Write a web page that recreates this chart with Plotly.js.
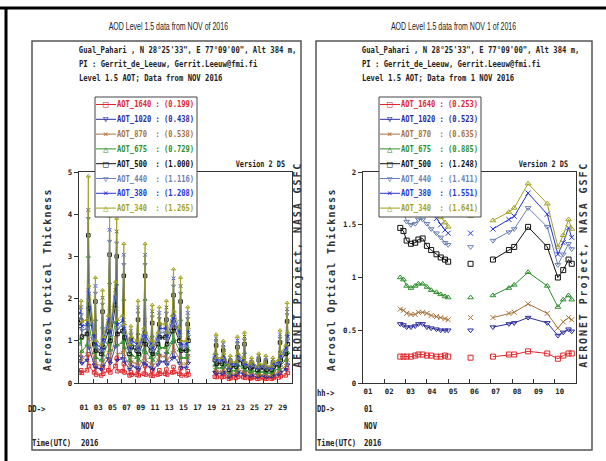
<!DOCTYPE html>
<html><head><meta charset="utf-8">
<script src="https://cdn.plot.ly/plotly-3.0.1.min.js"></script>
<style>html,body{margin:0;padding:0;background:#fff}</style>
</head><body><div id="chart" style="width:606px;height:461px"></div>
<script>
// ---------------- data ----------------
const channels = ['AOT_1640','AOT_1020','AOT_870','AOT_675','AOT_500','AOT_440','AOT_380','AOT_340'];
const colors   = ['#e0262a','#2b2b9c','#a8743c','#2e8f2e','#111111','#6b80b4','#2436d6','#a2a21c'];
const symbols  = ['square-open','triangle-down-open','x-thin-open','triangle-up-open','square-open','triangle-down-open','x-thin-open','triangle-up-open'];
const glyphs   = ['\u25A1','\u25BD','\u00D7','\u25B3','\u25A1','\u25BD','\u00D7','\u25B3'];
const meansMonth = ['0.199','0.438','0.538','0.729','1.000','1.116','1.208','1.265'];
const meansDay   = ['0.253','0.523','0.635','0.885','1.248','1.411','1.551','1.641'];

// Left panel: November 2016, three sampled observations (UTC hours) per measurement day
const monthDays = [1,2,3,4,5,6,7,8,9,10,11,12,13,14,15,16,20,21,22,23,24,25,26,27,28,29,30];
const obsHours  = [3, 7.5, 10];
const month_1640 = [0.25,0.30,0.24, 0.30,0.68,0.40, 0.25,0.40,0.20, 0.18,0.35,0.22, 0.30,0.55,0.25, 0.40,0.58,0.28, 0.28,0.45,0.25, 0.18,0.25,0.20, 0.20,0.30,0.18, 0.22,0.40,0.20, 0.18,0.28,0.17, 0.20,0.30,0.22, 0.22,0.32,0.20, 0.25,0.38,0.26, 0.22,0.35,0.18, 0.18,0.28,0.20,
  0.15,0.25,0.14, 0.14,0.22,0.15, 0.10,0.16,0.12, 0.12,0.22,0.15, 0.14,0.24,0.12, 0.11,0.15,0.12, 0.10,0.16,0.11, 0.11,0.15,0.10, 0.10,0.14,0.12, 0.13,0.24,0.16, 0.18,0.35,0.24];
const month_1020 = [0.53,0.62,0.46, 0.54,1.76,0.83, 0.43,0.90,0.36, 0.32,0.79,0.40, 0.58,1.42,0.47, 0.86,1.40,0.54, 0.58,1.19,0.50, 0.32,0.49,0.40, 0.36,0.70,0.32, 0.47,1.19,0.43, 0.36,0.67,0.32, 0.43,0.65,0.50, 0.50,0.70,0.43, 0.58,0.97,0.61, 0.47,0.90,0.36, 0.36,0.65,0.47,
  0.25,0.41,0.22, 0.22,0.36,0.25, 0.14,0.23,0.18, 0.18,0.40,0.25, 0.22,0.43,0.18, 0.16,0.22,0.18, 0.14,0.25,0.16, 0.16,0.23,0.14, 0.14,0.22,0.18, 0.20,0.45,0.25, 0.32,0.68,0.43];
const month_870 = [0.65,0.75,0.55, 0.68,2.20,1.04, 0.54,1.13,0.45, 0.41,0.99,0.50, 0.72,1.78,0.59, 1.08,1.76,0.68, 0.72,1.49,0.63, 0.41,0.61,0.50, 0.45,0.88,0.41, 0.59,1.49,0.54, 0.45,0.83,0.41, 0.54,0.81,0.63, 0.63,0.88,0.54, 0.72,1.22,0.77, 0.59,1.13,0.45, 0.45,0.81,0.59,
  0.32,0.52,0.27, 0.27,0.45,0.32, 0.18,0.29,0.23, 0.23,0.50,0.32, 0.27,0.54,0.23, 0.20,0.27,0.23, 0.18,0.32,0.20, 0.20,0.29,0.18, 0.18,0.27,0.23, 0.25,0.56,0.32, 0.41,0.86,0.54];
const month_675 = [0.92,1.05,0.75, 0.90,3.00,1.38, 0.72,1.50,0.60, 0.54,1.32,0.66, 0.96,2.37,0.78, 1.44,2.34,0.90, 0.96,1.98,0.84, 0.54,0.81,0.66, 0.60,1.17,0.54, 0.78,1.98,0.72, 0.60,1.11,0.54, 0.72,1.08,0.84, 0.84,1.17,0.72, 0.96,1.62,1.02, 0.78,1.50,0.60, 0.60,1.08,0.78,
  0.42,0.69,0.36, 0.36,0.60,0.42, 0.24,0.39,0.30, 0.30,0.66,0.42, 0.36,0.72,0.30, 0.27,0.36,0.30, 0.24,0.42,0.27, 0.27,0.39,0.24, 0.24,0.36,0.30, 0.33,0.75,0.42, 0.54,1.14,0.72];
const month_500 = [1.35,1.48,1.10, 1.16,3.50,1.77, 0.92,1.93,0.77, 0.69,1.69,0.85, 1.23,3.04,1.00, 1.85,3.00,1.16, 1.23,2.54,1.08, 0.69,1.04,0.85, 0.77,1.50,0.69, 1.00,2.54,0.92, 0.77,1.42,0.69, 0.92,1.39,1.08, 1.08,1.50,0.92, 1.23,2.08,1.31, 1.00,1.93,0.77, 0.77,1.39,1.00,
  0.54,0.89,0.46, 0.46,0.77,0.54, 0.31,0.50,0.39, 0.39,0.85,0.54, 0.46,0.92,0.39, 0.35,0.46,0.39, 0.31,0.54,0.35, 0.35,0.50,0.31, 0.31,0.46,0.39, 0.42,0.96,0.54, 0.69,1.46,0.92];
const month_440 = [1.53,1.62,1.25, 1.28,3.90,1.96, 1.02,2.13,0.85, 0.77,1.87,0.94, 1.36,3.36,1.11, 2.04,3.32,1.28, 1.36,2.81,1.19, 0.77,1.15,0.94, 0.85,1.66,0.77, 1.11,2.81,1.02, 0.85,1.57,0.77, 1.02,1.53,1.19, 1.19,1.66,1.02, 1.36,2.30,1.45, 1.11,2.13,0.85, 0.85,1.53,1.11,
  0.60,0.98,0.51, 0.51,0.85,0.60, 0.34,0.55,0.43, 0.43,0.94,0.60, 0.51,1.02,0.43, 0.38,0.51,0.43, 0.34,0.60,0.38, 0.38,0.55,0.34, 0.34,0.51,0.43, 0.47,1.06,0.60, 0.77,1.62,1.02];
const month_380 = [1.66,1.80,1.35, 1.38,4.10,2.12, 1.10,2.30,0.92, 0.83,2.02,1.01, 1.47,3.63,1.20, 2.21,3.59,1.38, 1.47,3.04,1.29, 0.83,1.24,1.01, 0.92,1.79,0.83, 1.20,3.04,1.10, 0.92,1.70,0.83, 1.10,1.66,1.29, 1.29,1.79,1.10, 1.47,2.48,1.56, 1.20,2.30,0.92, 0.92,1.66,1.20,
  0.64,1.06,0.55, 0.55,0.92,0.64, 0.37,0.60,0.46, 0.46,1.01,0.64, 0.55,1.10,0.46, 0.41,0.55,0.46, 0.37,0.64,0.41, 0.41,0.60,0.37, 0.37,0.55,0.46, 0.51,1.15,0.64, 0.83,1.75,1.10];
const month_340 = [1.77,1.95,1.45, 1.50,4.90,2.30, 1.20,2.50,1.00, 0.90,2.20,1.10, 1.60,3.95,1.30, 2.40,3.90,1.50, 1.60,3.30,1.40, 0.90,1.35,1.10, 1.00,1.95,0.90, 1.30,3.30,1.20, 1.00,1.85,0.90, 1.20,1.80,1.40, 1.40,1.95,1.20, 1.60,2.70,1.70, 1.30,2.50,1.00, 1.00,1.80,1.30,
  0.70,1.15,0.60, 0.60,1.00,0.70, 0.40,0.65,0.50, 0.50,1.10,0.70, 0.60,1.20,0.50, 0.45,0.60,0.50, 0.40,0.70,0.45, 0.45,0.65,0.40, 0.40,0.60,0.50, 0.55,1.25,0.70, 0.90,1.90,1.20];

// Right panel: 1 November 2016, UTC hour of each observation
const dayHours = [2.75,2.9,3.05,3.25,3.45,3.6,3.8,4.0,4.2,4.45,4.65,4.85,5.0, 6.05, 7.1,7.85,8.1,8.75,9.65,10.15,10.4,10.65,10.8];
const day_1640 = [0.25,0.25,0.25,0.25,0.26,0.27,0.27,0.26,0.26,0.25,0.25,0.26,0.25, 0.24, 0.25,0.27,0.27,0.30,0.28,0.23,0.26,0.28,0.28];
const day_1020 = [0.56,0.55,0.53,0.53,0.54,0.56,0.56,0.53,0.52,0.51,0.50,0.50,0.50, 0.50, 0.53,0.56,0.57,0.62,0.57,0.45,0.48,0.51,0.49];
const day_870  = [0.70,0.69,0.66,0.65,0.65,0.67,0.67,0.66,0.64,0.63,0.62,0.61,0.60, 0.62, 0.62,0.66,0.67,0.75,0.66,0.52,0.58,0.62,0.60];
const day_675  = [1.00,0.98,0.92,0.90,0.92,0.94,0.94,0.91,0.88,0.86,0.84,0.82,0.81, 0.81, 0.83,0.90,0.93,1.05,0.92,0.72,0.79,0.83,0.79];
const day_500  = [1.47,1.44,1.35,1.32,1.33,1.36,1.37,1.30,1.26,1.22,1.19,1.17,1.15, 1.13, 1.17,1.26,1.29,1.48,1.29,1.00,1.07,1.17,1.13];
const day_440  = [1.66,1.63,1.53,1.50,1.51,1.55,1.55,1.51,1.46,1.42,1.38,1.33,1.31, 1.29, 1.35,1.43,1.46,1.66,1.48,1.12,1.22,1.32,1.27];
const day_380  = [1.82,1.78,1.68,1.64,1.65,1.69,1.70,1.65,1.60,1.56,1.50,1.45,1.42, 1.42, 1.46,1.55,1.58,1.80,1.60,1.22,1.33,1.47,1.38];
const day_340  = [1.92,1.88,1.77,1.73,1.74,1.78,1.79,1.74,1.68,1.63,1.57,1.52,1.48, 1.58, 1.54,1.62,1.66,1.89,1.70,1.29,1.40,1.55,1.46];

const dayTicks = [1,3,5,7,9,11,13,15,17,19,21,23,25,27,29];
const dayTickText = ['01','03','05','07','09','11','13','15','17','19','21','23','25','27','29'];
const hourTicks = [1,2,3,4,5,6,7,8,9,10];
const hourTickText = ['01','02','03','04','05','06','07','08','09','10'];
const yTicksLeft = [0,1,2,3,4,5];
const yTicksRight = [0,0.5,1,1.5,2];
const yTickTextRight = ['0','0.5','1','1.5','2'];

const monthSeries = [month_1640,month_1020,month_870,month_675,month_500,month_440,month_380,month_340];
const daySeries = [day_1640,day_1020,day_870,day_675,day_500,day_440,day_380,day_340];

// ---------------- helpers ----------------
const W = 606, H = 461;
const px = x => x / W, py = y => 1 - y / H;
const MONO = 'DejaVu Sans Mono, Liberation Mono, monospace';
const SANS = 'Liberation Sans, Arial, sans-serif';

function withGaps(xs, ys, maxGap) {
  const X = [], Y = [];
  for (let i = 0; i < xs.length; i++) {
    if (i > 0 && xs[i] - xs[i-1] > maxGap) { X.push(null); Y.push(null); }
    X.push(xs[i]); Y.push(ys[i]);
  }
  return {X, Y};
}

const monthTimes = [];
monthDays.forEach(d => obsHours.forEach(h => monthTimes.push(d + h / 24)));

const traces = [];
channels.forEach((c, i) => {
  const m = withGaps(monthTimes, monthSeries[i], 1.5);
  traces.push({type:'scatter', mode:'lines+markers', x:m.X, y:m.Y, xaxis:'x', yaxis:'y', name:c,
    line:{color:colors[i], width:0.9}, connectgaps:false,
    marker:{symbol:symbols[i], size:3.5, color:colors[i], line:{color:colors[i], width:1}}});
});
channels.forEach((c, i) => {
  const m = withGaps(dayHours, daySeries[i], 1.0);
  traces.push({type:'scatter', mode:'lines+markers', x:m.X, y:m.Y, xaxis:'x2', yaxis:'y2', name:c,
    line:{color:colors[i], width:1}, connectgaps:false,
    marker:{symbol:symbols[i], size:5, color:colors[i], line:{color:colors[i], width:1}}});
});

// ---------------- annotations & shapes ----------------
const ann = [];
const textStyle = [];   // per-annotation horizontal condensing / letter spacing
function txt(x, y, text, font, opts, style) {
  const a = Object.assign({xref:'paper', yref:'paper', x:px(x), y:py(y), text:text, showarrow:false,
    xanchor:'left', yanchor:'middle', borderpad:0, font:font}, opts || {});
  if (style) textStyle.push(Object.assign({index:ann.length, anchor:a.xanchor}, style));
  ann.push(a);
}
const mono = (size, color) => ({family:MONO, size:size, color:color || '#222', weight:'bold'});
const NS = {scale:0.77};

const shapes = [];
// outer frame (top and left edges)
shapes.push({type:'line', xref:'paper', yref:'paper', x0:px(0), x1:px(606), y0:py(8), y1:py(8), line:{color:'#000', width:3}});
shapes.push({type:'line', xref:'paper', yref:'paper', x0:px(6), x1:px(6), y0:py(8), y1:py(461), line:{color:'#000', width:3}});
// panel boxes
shapes.push({type:'rect', xref:'paper', yref:'paper', x0:px(32), x1:px(301), y0:py(41), y1:py(450), line:{color:'#555', width:1.5}});
shapes.push({type:'rect', xref:'paper', yref:'paper', x0:px(316), x1:px(592), y0:py(41), y1:py(450), line:{color:'#555', width:1.5}});

const panels = [
  {title:'AOD Level 1.5 data from NOV of 2016', tx:168, hx:78, lvl:'Level 1.5 AOT; Data from NOV 2016', lx:95, means:meansMonth, yt:47, ae:297, vx:286},
  {title:'AOD Level 1.5 data from NOV 1 of 2016', tx:453, hx:361, lvl:'Level 1.5 AOT; Data from 1 NOV 2016', lx:379, means:meansDay, yt:331, ae:583, vx:569}
];
panels.forEach(p => {
  txt(p.tx, 27, p.title, {family:SANS, size:10, color:'#222'}, {xanchor:'center'}, {scale:0.7});
  txt(p.hx, 50, 'Gual_Pahari , N 28\u00B025\'33", E 77\u00B009\'00", Alt 384 m,', mono(9.4), null, NS);
  txt(p.hx, 63.5, 'PI : Gerrit_de_Leeuw, Gerrit.Leeuw@fmi.fi', mono(9.4), null, NS);
  txt(p.hx, 77, p.lvl, mono(9.4), null, NS);
  txt(p.vx, 164, 'Version 2 DS', mono(9), {xanchor:'right'}, {scale:0.76});
  txt(p.yt, 280, 'Aerosol Optical Thickness', mono(10, '#333'), {xanchor:'center', textangle:-90}, {spacing:1.3});
  txt(p.ae, 265, 'AERONET Project, NASA GSFC', mono(10, '#333'), {xanchor:'center', textangle:-90}, {spacing:1.9});
  // legend box
  shapes.push({type:'rect', xref:'paper', yref:'paper', layer:'above', x0:px(p.lx), x1:px(p.lx+102), y0:py(97), y1:py(217),
    fillcolor:'#fff', line:{color:'#444', width:1}});
  channels.forEach((c, i) => {
    const ry = 104.5 + i * 14.8;
    shapes.push({type:'line', xref:'paper', yref:'paper', layer:'above', x0:px(p.lx+1), x1:px(p.lx+21), y0:py(ry), y1:py(ry),
      line:{color:colors[i], width:1}});
    txt(p.lx + 10.5, ry, glyphs[i], {family:MONO, size:9, color:colors[i]}, {xanchor:'center'});
    const name = c + '\u00A0'.repeat(9 - c.length);
    txt(p.lx + 21, ry, name + ':\u00A0(' + p.means[i] + ')', mono(9, colors[i]), null, {scale:0.79});
  });
});
// bottom time labels
txt(27, 408, 'DD->', mono(9.4), null, NS);
txt(80, 425, 'NOV', mono(9.4), null, NS);
txt(31, 442, 'Time(UTC)', mono(9.4), null, NS);
txt(80, 442, '2016', mono(9.4), null, NS);
txt(316, 392, 'hh->', mono(9.4), null, NS);
txt(316, 408, 'DD->', mono(9.4), null, NS);
txt(363, 408, '01', mono(9.4), null, NS);
txt(363, 425, 'NOV', mono(9.4), null, NS);
txt(316, 442, 'Time(UTC)', mono(9.4), null, NS);
txt(363, 442, '2016', mono(9.4), null, NS);

const axisBase = {showline:true, mirror:true, linecolor:'#333', linewidth:1.2, showgrid:false, zeroline:false,
  tickcolor:'#333', tickfont:mono(7.4), fixedrange:true};

const layout = {
  width:W, height:H, margin:{l:0, r:0, t:0, b:0}, paper_bgcolor:'#fff', plot_bgcolor:'#fff', showlegend:false,
  xaxis: Object.assign({}, axisBase, {domain:[px(79), px(292)], range:[1,31], anchor:'y', tickmode:'array',
    tickvals:dayTicks, ticktext:dayTickText, ticks:'inside', ticklen:4, ticklabelstandoff:17, ticklabelshift:5}),
  yaxis: Object.assign({}, axisBase, {domain:[py(383), py(172)], range:[0,5], anchor:'x', tickmode:'array',
    tickvals:yTicksLeft, ticks:'outside', ticklen:4}),
  xaxis2: Object.assign({}, axisBase, {domain:[px(363), px(576)], range:[1,11], anchor:'y2', tickmode:'array',
    tickvals:hourTicks, ticktext:hourTickText, ticks:'inside', ticklen:4, ticklabelstandoff:1, ticklabelshift:5}),
  yaxis2: Object.assign({}, axisBase, {domain:[py(383), py(172)], range:[0,2], anchor:'x2', tickmode:'array',
    tickvals:yTicksRight, ticktext:yTickTextRight, ticks:'outside', ticklen:4}),
  annotations: ann, shapes: shapes
};

const originFor = {left:'left center', center:'center', right:'right center'};
Plotly.newPlot('chart', traces, layout, {staticPlot:true, displayModeBar:false}).then(gd => {
  textStyle.forEach(s => {
    const t = gd.querySelector('.annotation[data-index="' + s.index + '"] .annotation-text');
    if (!t) return;
    if (s.scale) {
      t.style.transformBox = 'fill-box';
      t.style.transformOrigin = originFor[s.anchor] || 'center';
      t.style.transform = 'scaleX(' + s.scale + ')';
    }
    if (s.spacing) t.style.letterSpacing = s.spacing + 'px';
  });
});
</script>
</body></html>
